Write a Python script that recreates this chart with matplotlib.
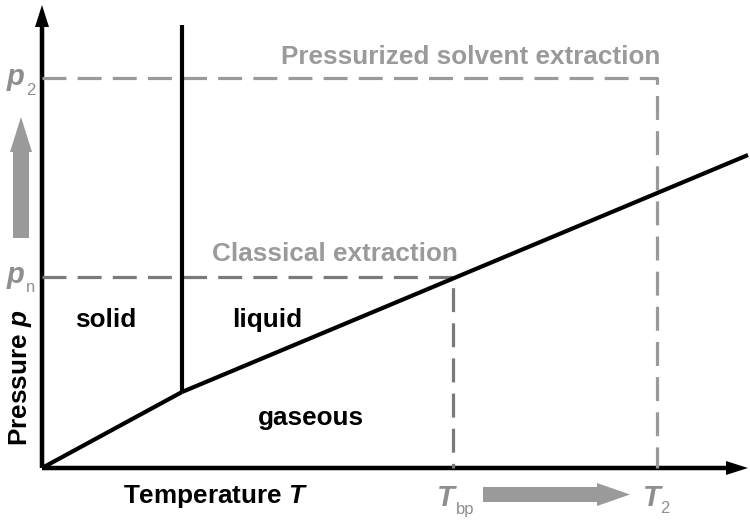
import matplotlib
matplotlib.use("Agg")
import matplotlib.pyplot as plt

plt.rcParams['font.family'] = ['Liberation Sans', 'DejaVu Sans']
plt.rcParams['mathtext.fontset'] = 'custom'
plt.rcParams['mathtext.bf'] = 'Liberation Sans:italic:bold'
plt.rcParams['mathtext.rm'] = 'Liberation Sans'

# phase boundaries (schematic units, origin at axis corner)
sublim_T = [0, 140]
sublim_p = [0, 76]
melt_T = [140, 140]
melt_p = [76, 443]
vap_T = [140, 706]
vap_p = [76, 313]

# extraction conditions
T_bp, p_n = 411, 191
T_2, p_2 = 615, 390

region_labels = ['solid', 'liquid', 'gaseous']
region_T = [33, 190, 216]
region_p = [148, 148, 50]

fig = plt.figure(figsize=(7.5, 5.2), dpi=100)
ax = fig.add_axes([0, 0, 1, 1])
ax.set_xlim(-42, 708)
ax.set_ylim(-52, 468)
ax.axis('off')

black = '#000000'
dark = '#7a7a7a'
light = '#9a9a9a'
lab_gray = '#8e8e8e'

# axes with arrow heads
ax.arrow(0, 0, 0, 441, width=4.5, head_width=14, head_length=22,
         length_includes_head=False, color=black, lw=0)
ax.arrow(0, 0, 684, 0, width=4.5, head_width=14, head_length=22,
         length_includes_head=False, color=black, lw=0)

# dashed condition lines
ax.plot([0, T_bp, T_bp], [p_n, p_n, 0], color=dark, lw=2.3,
        dashes=(7.5, 3.5), zorder=2)
ax.plot([0, T_2, T_2], [p_2, p_2, 0], color=light, lw=2.3,
        dashes=(7.5, 3.5), zorder=2)

# phase boundaries
for xs, ys in [(sublim_T, sublim_p), (melt_T, melt_p), (vap_T, vap_p)]:
    ax.plot(xs, ys, color=black, lw=3.0, solid_capstyle='butt', zorder=3)

fs = 18.8
for lab, t, p in zip(region_labels, region_T, region_p):
    ax.text(t, p, lab, fontsize=fs, fontweight='bold', ha='left', va='center')

ax.text(429, 411, 'Pressurized solvent extraction', color=light,
        fontsize=fs, fontweight='bold', ha='center', va='center')
ax.text(293, 214, 'Classical extraction', color=light,
        fontsize=fs, fontweight='bold', ha='center', va='center')

# axis titles
ax.text(-22, 90, r'Pressure $\mathbf{p}$', rotation=90, fontsize=fs,
        fontweight='bold', ha='center', va='center')
ax.text(174, -28, r'Temperature $\mathbf{T}$', fontsize=fs,
        fontweight='bold', ha='center', va='center')

# symbol labels: main letter + subscript
sym = [('p', '2', -35, 383, -16, 373),
       ('p', 'n', -35, 185, -16, 176),
       ('T', 'bp', 395, -38, 414, -46),
       ('T', '2', 601, -38, 618, -45)]
for main, sub, mx, my, sx, sy in sym:
    ax.text(mx, my, main, color=lab_gray, fontsize=21, fontweight='bold',
            fontstyle='italic', ha='left', va='baseline')
    ax.text(sx, sy, sub, color=lab_gray, fontsize=12,
            ha='left', va='baseline')

# gray direction arrows
ax.arrow(-21, 230, 0, 86, width=16, head_width=22, head_length=35,
         length_includes_head=False, color=light, lw=0)
ax.arrow(441, -26.5, 114, 0, width=15, head_width=23, head_length=33,
         length_includes_head=False, color=light, lw=0)

fig.savefig('out.png', dpi=100)
